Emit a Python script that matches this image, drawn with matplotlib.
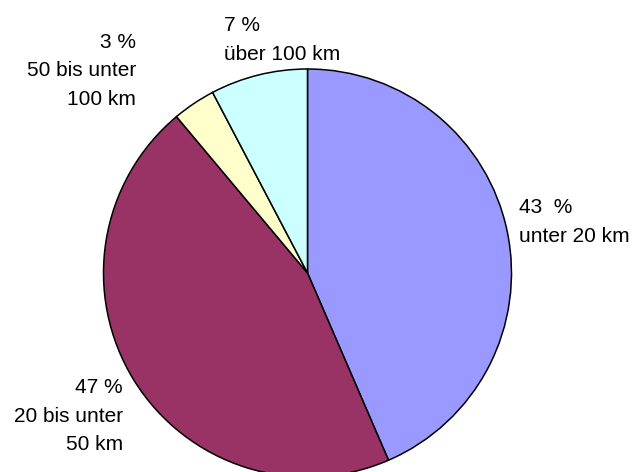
import matplotlib
matplotlib.use("Agg")
import matplotlib.pyplot as plt

plt.rcParams['font.family'] = ['Liberation Sans', 'DejaVu Sans']

# distance shares (clockwise from top), slice sizes
categories = ["unter 20 km", "20 bis unter\n50 km", "50 bis unter\n100 km", "über 100 km"]
pct_labels = ["43  %", "47 %", "3 %", "7 %"]
values = [43.5, 45.4, 3.4, 7.7]
colors = ["#9999FF", "#993366", "#FFFFCC", "#CCFFFF"]

W, H = 637, 472
fig = plt.figure(figsize=(W / 100, H / 100), dpi=100)
ax = fig.add_axes([0, 0, 1, 1])

ax.pie(values, colors=colors, startangle=90, counterclock=False,
       center=(307.5, H - 273), radius=204,
       wedgeprops=dict(edgecolor="black", linewidth=1.1))
ax.set_xlim(0, W)
ax.set_ylim(0, H)
ax.set_aspect("equal")
ax.axis("off")

# label blocks: (x, y-center in px from top, alignment)
label_pos = [(519, 222, "left"), (123, 416, "right"), (136, 71, "right"), (224, 40, "left")]
for (x, y, ha), p, c in zip(label_pos, pct_labels, categories):
    ax.text(x, H - y, p + "\n" + c, ha=ha, va="center", fontsize=15,
            linespacing=1.65, multialignment=ha)

fig.savefig("out.png", dpi=100)
